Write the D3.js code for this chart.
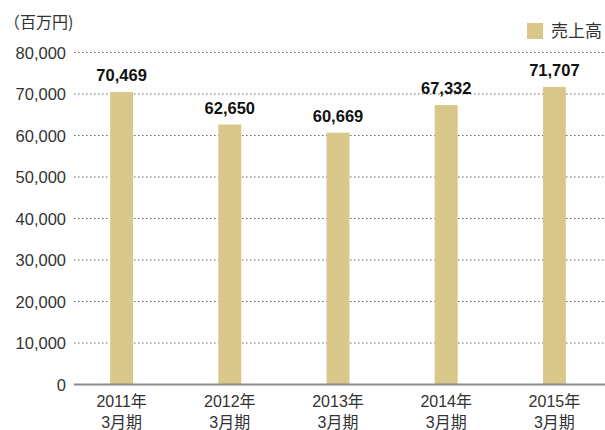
<!DOCTYPE html>
<html>
<head>
<meta charset="utf-8">
<script src="https://cdn.jsdelivr.net/npm/d3@7/dist/d3.min.js"></script>
<style>
  html, body { margin: 0; padding: 0; background: #fff; }
  svg { display: block; font-family: "Liberation Sans", Arial, "Noto Sans CJK JP", sans-serif; }
</style>
</head>
<body>
<svg id="chart" width="605" height="430"></svg>
<script>
// Net sales (millions of yen) by fiscal year ending March
const years = ["2011年", "2012年", "2013年", "2014年", "2015年"];
const periodLabel = "3月期";
const sales = [70469, 62650, 60669, 67332, 71707];
const yTicks = [0, 10000, 20000, 30000, 40000, 50000, 60000, 70000, 80000];
const unitLabel = "（百万円)";
const seriesName = "売上高";

const svg = d3.select("#chart");
const barColor = "#dac78a";
const textColor = "#333";

const x = d3.scaleBand()
  .domain(years)
  .range([67.5, 608.5])
  .paddingInner(0.788)
  .paddingOuter(0.394);

const y = d3.scaleLinear()
  .domain([0, 80000])
  .range([384.5, 52.5]);

const fmt = d3.format(",");

// dotted gridlines
svg.append("g")
  .selectAll("line")
  .data(yTicks.filter(d => d > 0))
  .join("line")
  .attr("x1", 74)
  .attr("x2", 605)
  .attr("y1", d => y(d))
  .attr("y2", d => y(d))
  .attr("stroke", "#666")
  .attr("stroke-width", 1)
  .attr("stroke-dasharray", "1.5,2.5");

// y-axis tick labels
const yAxis = d3.axisLeft(y).tickValues(yTicks).tickFormat(fmt).tickSize(0).tickPadding(0);
const gy = svg.append("g").attr("transform", "translate(66,0)").call(yAxis);
gy.select(".domain").remove();
gy.selectAll("text")
  .attr("fill", textColor)
  .attr("font-size", 16.5)
  .attr("font-family", "Liberation Sans, Arial, sans-serif")
  .attr("dy", "0.35em");

// bars
svg.append("g")
  .selectAll("rect")
  .data(sales)
  .join("rect")
  .attr("x", (d, i) => x(years[i]))
  .attr("width", x.bandwidth())
  .attr("y", d => y(d))
  .attr("height", d => y(0) - y(d))
  .attr("fill", barColor);

// baseline
svg.append("line")
  .attr("x1", 74).attr("x2", 605)
  .attr("y1", y(0)).attr("y2", y(0))
  .attr("stroke", "#8a8a8a")
  .attr("stroke-width", 2);

// value labels
svg.append("g")
  .selectAll("text")
  .data(sales)
  .join("text")
  .attr("x", (d, i) => x(years[i]) + x.bandwidth() / 2)
  .attr("y", d => y(d) - 11)
  .attr("text-anchor", "middle")
  .attr("font-size", 16.5)
  .attr("font-weight", "bold")
  .attr("fill", "#111")
  .text(d => fmt(d));

// category labels (two lines)
const gx = svg.append("g");
years.forEach(yr => {
  const cx = x(yr) + x.bandwidth() / 2;
  const t = gx.append("text")
    .attr("text-anchor", "middle")
    .attr("font-size", 16)
    .attr("fill", textColor);
  t.append("tspan").attr("x", cx).attr("y", 407).text(yr);
  t.append("tspan").attr("x", cx).attr("y", 428).text(periodLabel);
});

// unit label
svg.append("text")
  .attr("x", 4)
  .attr("y", 28)
  .attr("font-size", 16)
  .attr("fill", textColor)
  .attr("font-family", "Noto Sans CJK JP, sans-serif")
  .text(unitLabel);

// legend
svg.append("rect")
  .attr("x", 527).attr("y", 23)
  .attr("width", 16).attr("height", 16)
  .attr("fill", barColor);
svg.append("text")
  .attr("x", 551).attr("y", 37)
  .attr("font-size", 17)
  .attr("fill", textColor)
  .attr("font-family", "Noto Sans CJK JP, sans-serif")
  .text(seriesName);
</script>
</body>
</html>
